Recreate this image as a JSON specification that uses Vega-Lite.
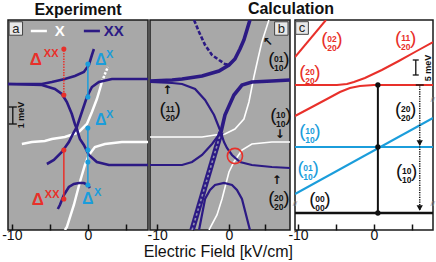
{
"$schema": "https://vega.github.io/schema/vega-lite/v6.json",
"padding": {"left": 0, "top": 0, "right": 0, "bottom": 0},
"background": "white",
"title": {"text": "Electric Field [kV/cm]", "orient": "bottom", "fontWeight": "normal", "fontSize": 16, "offset": 1, "anchor": "middle"},
"datasets": {
"aL": [
{"s":"A1","k":"XX","x":-10.5,"y":146},{"s":"A1","k":"XX","x":-8.68,"y":146},{"s":"A1","k":"XX","x":-6.05,"y":146},{"s":"A1","k":"XX","x":-4.74,"y":148},{"s":"A1","k":"XX","x":-3.03,"y":151},{"s":"A1","k":"XX","x":-1.71,"y":154},{"s":"A1","k":"XX","x":-0.53,"y":158},{"s":"A1","k":"XX","x":0.13,"y":165},{"s":"A1","k":"XX","x":0.53,"y":175},{"s":"A1","k":"XX","x":0.79,"y":181},
{"s":"A2","k":"XX","x":-10.5,"y":146},{"s":"A2","k":"XX","x":-6.05,"y":145},{"s":"A2","k":"XX","x":-4.34,"y":141},{"s":"A2","k":"XX","x":-3.42,"y":136},{"s":"A2","k":"XX","x":-2.76,"y":128},{"s":"A2","k":"XX","x":-2.11,"y":116},{"s":"A2","k":"XX","x":-1.71,"y":106},{"s":"A2","k":"XX","x":-1.45,"y":101},{"s":"A2","k":"XX","x":-1.05,"y":91},{"s":"A2","k":"XX","x":-0.53,"y":85},{"s":"A2","k":"XX","x":0.13,"y":75},{"s":"A2","k":"XX","x":1.18,"y":68},{"s":"A2","k":"XX","x":2.76,"y":65},{"s":"A2","k":"XX","x":4.47,"y":65},{"s":"A2","k":"XX","x":7.9,"y":65},
{"s":"B","k":"XX","x":-5.39,"y":66},{"s":"B","k":"XX","x":-4.47,"y":70},{"s":"B","k":"XX","x":-3.42,"y":78},{"s":"B","k":"XX","x":-2.5,"y":88},{"s":"B","k":"XX","x":-1.84,"y":98},{"s":"B","k":"XX","x":-1.45,"y":103},{"s":"B","k":"XX","x":-0.79,"y":118},{"s":"B","k":"XX","x":-0.13,"y":133},{"s":"B","k":"XX","x":0.53,"y":143},{"s":"B","k":"XX","x":1.45,"y":148},{"s":"B","k":"XX","x":3.16,"y":151},{"s":"B","k":"XX","x":4.47,"y":151},{"s":"B","k":"XX","x":7.9,"y":151},
{"s":"C","k":"XX","x":-3.95,"y":21},{"s":"C","k":"XX","x":-3.68,"y":25},{"s":"C","k":"XX","x":-3.16,"y":35},{"s":"C","k":"XX","x":-2.5,"y":43},{"s":"C","k":"XX","x":-1.84,"y":46},{"s":"C","k":"XX","x":-1.18,"y":47},{"s":"C","k":"XX","x":-0.53,"y":47},{"s":"C","k":"XX","x":0,"y":45},{"s":"C","k":"XX","x":0.26,"y":42},
{"s":"legXX","k":"XX","x":-0.53,"y":199},{"s":"legXX","k":"XX","x":1.58,"y":199},
{"s":"W1","k":"X","x":-8.68,"y":86},{"s":"W1","k":"X","x":-7.37,"y":88},{"s":"W1","k":"X","x":-5.66,"y":89},{"s":"W1","k":"X","x":-4.74,"y":91},{"s":"W1","k":"X","x":-3.03,"y":93},{"s":"W1","k":"X","x":-1.84,"y":96},{"s":"W1","k":"X","x":-1.18,"y":98},{"s":"W1","k":"X","x":-0.13,"y":106},{"s":"W1","k":"X","x":0.53,"y":118},{"s":"W1","k":"X","x":1.18,"y":131},{"s":"W1","k":"X","x":1.58,"y":141},{"s":"W1","k":"X","x":1.84,"y":148},
{"s":"W1d","k":"Xd","x":1.84,"y":148},{"s":"W1d","k":"Xd","x":2.24,"y":156},{"s":"W1d","k":"Xd","x":2.63,"y":163},
{"s":"W2","k":"X","x":-3.03,"y":0},{"s":"W2","k":"X","x":-2.76,"y":3},{"s":"W2","k":"X","x":-1.84,"y":25},{"s":"W2","k":"X","x":-1.05,"y":48},{"s":"W2","k":"X","x":-0.39,"y":65},{"s":"W2","k":"X","x":0.13,"y":75},{"s":"W2","k":"X","x":0.92,"y":83},{"s":"W2","k":"X","x":2.24,"y":86},{"s":"W2","k":"X","x":4.47,"y":88},{"s":"W2","k":"X","x":7.9,"y":88},
{"s":"legX","k":"X","x":-7.5,"y":199},{"s":"legX","k":"X","x":-5.39,"y":199}
],
"aV": [
{"k":"rd","x":-3.16,"y":135,"y2":181},{"k":"r","x":-3.16,"y":31,"y2":80},{"k":"b","x":0,"y":133,"y2":166},{"k":"b","x":0,"y":45,"y2":102},{"k":"k","x":-9.87,"y":106,"y2":123}
],
"aH": [
{"k":"k","x":-10.39,"x2":-9.34,"y":123},{"k":"k","x":-10.39,"x2":-9.34,"y":106}
],
"aP": [
{"k":"r","x":-3.16,"y":181},{"k":"r","x":-3.16,"y":135},{"k":"r","x":-3.16,"y":80},{"k":"r","x":-3.16,"y":31},
{"k":"b","x":0,"y":166},{"k":"b","x":0,"y":133},{"k":"b","x":0,"y":102},{"k":"b","x":0,"y":80},{"k":"b","x":0,"y":68},{"k":"b","x":0,"y":45},
{"k":"box","x":-9.47,"y":201.5}
],
"aT": [
{"k":"dR","t":"Δ","x":-7.63,"y":165},{"k":"supR","t":"XX","x":-5.79,"y":173},
{"k":"dR","t":"Δ","x":-7.37,"y":25},{"k":"supR","t":"XX","x":-5.66,"y":32},
{"k":"dB","t":"Δ","x":0.92,"y":165},{"k":"supB","t":"X","x":2.37,"y":172},
{"k":"dB","t":"Δ","x":0.92,"y":105},{"k":"supB","t":"X","x":2.37,"y":112},
{"k":"dB","t":"Δ","x":-0.79,"y":26},{"k":"supB","t":"X","x":0.79,"y":34},
{"k":"legW","t":"X","x":-4.34,"y":194},{"k":"legB","t":"XX","x":2.1,"y":194},
{"k":"meV","t":"1 meV","x":-8.75,"y":115},
{"k":"lbl","t":"a","x":-9.47,"y":201.5}
],
"bL": [
{"s":"B1","k":"XXt","x":-11,"y":149},{"s":"B1","k":"XXt","x":-7.92,"y":150},{"s":"B1","k":"XXt","x":-6.53,"y":151},{"s":"B1","k":"XXt","x":-3.75,"y":154},{"s":"B1","k":"XXt","x":-1.39,"y":159},{"s":"B1","k":"XXt","x":0,"y":165},{"s":"B1","k":"XXt","x":0.83,"y":171},{"s":"B1","k":"XXt","x":1.53,"y":181},{"s":"B1","k":"XXt","x":2.08,"y":190},{"s":"B1","k":"XXt","x":2.5,"y":200},{"s":"B1","k":"XXt","x":2.92,"y":210},
{"s":"B2","k":"XX","x":-11,"y":148},{"s":"B2","k":"XX","x":-7.92,"y":147},{"s":"B2","k":"XX","x":-6.53,"y":146},{"s":"B2","k":"XX","x":-4.72,"y":141},{"s":"B2","k":"XX","x":-3.33,"y":130},{"s":"B2","k":"XX","x":-2.08,"y":115},{"s":"B2","k":"XX","x":-1.25,"y":100},{"s":"B2","k":"XX","x":-0.69,"y":88},{"s":"B2","k":"XX","x":-0.28,"y":82},{"s":"B2","k":"XX","x":0.42,"y":75},{"s":"B2","k":"XX","x":1.53,"y":68},{"s":"B2","k":"XX","x":3.19,"y":65},{"s":"B2","k":"XX","x":5.97,"y":63},{"s":"B2","k":"XX","x":8.5,"y":62},
{"s":"B3a","k":"XX","x":-11,"y":65},{"s":"B3a","k":"XX","x":-6.53,"y":65},{"s":"B3a","k":"XX","x":-5.14,"y":68},{"s":"B3a","k":"XX","x":-3.75,"y":75},{"s":"B3a","k":"XX","x":-2.36,"y":86},{"s":"B3a","k":"XX","x":-1.11,"y":98},
{"s":"B3b","k":"XXt","x":-1.11,"y":98},{"s":"B3b","k":"XXt","x":-0.56,"y":115},{"s":"B3b","k":"XXt","x":0.69,"y":135},{"s":"B3b","k":"XXt","x":1.81,"y":145},{"s":"B3b","k":"XXt","x":3.19,"y":148},{"s":"B3b","k":"XXt","x":5.97,"y":149},{"s":"B3b","k":"XXt","x":8.5,"y":150},
{"s":"U","k":"XXd","x":-4.86,"y":210},{"s":"U","k":"XXd","x":-4.17,"y":198},{"s":"U","k":"XXd","x":-3.33,"y":185},{"s":"U","k":"XXd","x":-2.36,"y":175},{"s":"U","k":"XXd","x":-1.39,"y":170},{"s":"U","k":"XXd","x":-0.56,"y":166},{"s":"U","k":"XXd","x":0.14,"y":165},
{"s":"H","k":"hatch","x":-5.14,"y":0},{"s":"H","k":"hatch","x":-1.11,"y":98},
{"s":"Cb","k":"XX","x":-4.17,"y":0},{"s":"Cb","k":"XX","x":-3.33,"y":31},{"s":"Cb","k":"XX","x":-2.64,"y":40},{"s":"Cb","k":"XX","x":-1.94,"y":45},{"s":"Cb","k":"XX","x":-0.69,"y":47},{"s":"Cb","k":"XX","x":0.42,"y":45},{"s":"Cb","k":"XX","x":1.11,"y":40},{"s":"Cb","k":"XX","x":1.81,"y":31},{"s":"Cb","k":"XX","x":2.92,"y":0},
{"s":"Wb1","k":"X","x":-11,"y":93},{"s":"Wb1","k":"X","x":-6.53,"y":93},{"s":"Wb1","k":"X","x":-3.75,"y":93},{"s":"Wb1","k":"X","x":-1.94,"y":95},{"s":"Wb1","k":"X","x":-0.56,"y":96},{"s":"Wb1","k":"X","x":0.83,"y":101},{"s":"Wb1","k":"X","x":2.08,"y":111},{"s":"Wb1","k":"X","x":2.78,"y":128},{"s":"Wb1","k":"X","x":3.47,"y":153},{"s":"Wb1","k":"X","x":4.03,"y":171},{"s":"Wb1","k":"X","x":4.58,"y":188},{"s":"Wb1","k":"X","x":5.56,"y":210},
{"s":"Wb2","k":"X","x":-2.78,"y":0},{"s":"Wb2","k":"X","x":-1.67,"y":15},{"s":"Wb2","k":"X","x":-0.97,"y":31},{"s":"Wb2","k":"X","x":0,"y":58},{"s":"Wb2","k":"X","x":0.69,"y":68},{"s":"Wb2","k":"X","x":1.81,"y":80},{"s":"Wb2","k":"X","x":3.19,"y":86},{"s":"Wb2","k":"X","x":5.97,"y":88},{"s":"Wb2","k":"X","x":8.5,"y":88}
],
"bP": [
{"k":"ring","x":0.83,"y":74},{"k":"box","x":7.29,"y":201.5}
],
"bT": [
{"k":"m","g":"state","t":"01/10","x":6.94,"y":171},
{"k":"m","g":"state","t":"11/20","x":-8.19,"y":121},
{"k":"m","g":"state","t":"10/10","x":7.22,"y":115},
{"k":"m","g":"state","t":"20/20","x":6.94,"y":32},
{"k":"arr","t":"↖","x":5.42,"y":188},
{"k":"arr","t":"↑","x":-8.61,"y":140},
{"k":"arr","t":"↓","x":7.08,"y":96},
{"k":"arr","t":"↑","x":6.67,"y":50},
{"k":"lbl","t":"b","x":7.29,"y":201.5}
],
"cL": [
{"s":"Rs","k":"R","x":-10.4,"y":173},{"s":"Rs","k":"R","x":-6.32,"y":210},
{"s":"Ra","k":"R","x":-10.4,"y":145},{"s":"Ra","k":"R","x":-4.87,"y":145},{"s":"Ra","k":"R","x":-3.55,"y":146},{"s":"Ra","k":"R","x":-2.63,"y":148},{"s":"Ra","k":"R","x":-1.18,"y":152},{"s":"Ra","k":"R","x":1.05,"y":160},{"s":"Ra","k":"R","x":3.29,"y":169},{"s":"Ra","k":"R","x":5.66,"y":179},{"s":"Ra","k":"R","x":7.8,"y":188},
{"s":"Rb","k":"R","x":-10.4,"y":114},{"s":"Rb","k":"R","x":-8.16,"y":123},{"s":"Rb","k":"R","x":-6.18,"y":131},{"s":"Rb","k":"R","x":-4.47,"y":138},{"s":"Rb","k":"R","x":-3.16,"y":142},{"s":"Rb","k":"R","x":-1.84,"y":144},{"s":"Rb","k":"R","x":0,"y":145},{"s":"Rb","k":"R","x":7.8,"y":145},
{"s":"Bf","k":"Bl","x":-10.4,"y":83},{"s":"Bf","k":"Bl","x":7.8,"y":83},
{"s":"Bs","k":"Bl","x":-10.4,"y":36},{"s":"Bs","k":"Bl","x":7.8,"y":112},
{"s":"G","k":"G","x":-10.4,"y":17},{"s":"G","k":"G","x":7.8,"y":17}
],
"cV": [
{"k":"k","x":0.53,"y":17,"y2":145},{"k":"kd","x":6.05,"y":20,"y2":145},{"k":"k1","x":5.53,"y":155,"y2":170}
],
"cH": [
{"k":"k1","x":5.13,"x2":5.92,"y":170},{"k":"k1","x":5.13,"x2":5.92,"y":155},{"k":"k1","x":5.53,"x2":6.58,"y":145}
],
"cP": [
{"k":"dot","x":0.53,"y":145},{"k":"dot","x":0.53,"y":83},{"k":"dot","x":0.53,"y":17},
{"k":"tri","x":6.05,"y":87},{"k":"tri","x":6.05,"y":22},
{"k":"box","x":-9.47,"y":202}
],
"cT": [
{"k":"m","g":"biexciton","t":"02/20","x":-5.53,"y":191},
{"k":"m","g":"biexciton","t":"11/20","x":4.21,"y":192},
{"k":"m","g":"biexciton","t":"20/20","x":-8.42,"y":158},
{"k":"m","g":"state","t":"20/20","x":4.21,"y":121},
{"k":"m","g":"exciton","t":"10/10","x":-8.42,"y":99},
{"k":"m","g":"exciton","t":"01/10","x":-8.68,"y":62},
{"k":"m","g":"state","t":"10/10","x":4.34,"y":59},
{"k":"m","g":"state","t":"00/00","x":-7.11,"y":31},
{"k":"meV","t":"5 meV","x":7.1,"y":162},
{"k":"lbl","t":"c","x":-9.47,"y":202},
{"k":"brk","t":"//","x":-10.39,"y":26},{"k":"brk","t":"//","x":7.76,"y":26},{"k":"brk","t":"//","x":7.76,"y":130}
]
},
"spacing": 2,
"bounds": "flush",
"hconcat": [
{
"title": {"text": "Experiment", "anchor": "middle"},
"width": 140, "height": 210,
"view": {"fill": "#a8a8a8", "stroke": "#1a1a1a", "strokeWidth": 1.5},
"encoding": {
"x": {"field": "x", "type": "quantitative", "scale": {"domain": [-10.5, 7.9], "nice": false, "zero": false},
 "axis": {"values": [-10, -5, 0, 5], "labelExpr": "datum.value == -10 ? '-10' : datum.value == 0 ? '0' : ''", "tickSize": -6, "tickWidth": 1.5, "tickColor": "#111", "domain": false, "grid": false, "title": null, "labelFontSize": 14, "labelFont": "Liberation Sans", "labelColor": "#111", "labelPadding": 4, "labelFlush": false, "labelOverlap": false}},
"y": {"field": "y", "type": "quantitative", "scale": {"domain": [0, 210], "nice": false, "zero": false}, "axis": null}
},
"layer": [
{"data": {"name": "aL"}, "transform": [{"filter": "datum.k == 'X'"}], "mark": {"type": "line", "stroke": "white", "strokeWidth": 2.5, "clip": true}, "encoding": {"detail": {"field": "s"}}},
{"data": {"name": "aL"}, "transform": [{"filter": "datum.k == 'Xd'"}], "mark": {"type": "line", "stroke": "white", "strokeWidth": 2.5, "strokeDash": [2.5, 1.5], "clip": true}, "encoding": {"detail": {"field": "s"}}},
{"data": {"name": "aL"}, "transform": [{"filter": "datum.k == 'XX'"}], "mark": {"type": "line", "stroke": "#2c1a84", "strokeWidth": 2.6, "clip": true}, "encoding": {"detail": {"field": "s"}}},
{"data": {"name": "aV"}, "transform": [{"filter": "datum.k == 'rd'"}], "mark": {"type": "rule", "stroke": "#e8302a", "strokeWidth": 1.5, "strokeDash": [1.5, 1.2]}, "encoding": {"y2": {"field": "y2"}}},
{"data": {"name": "aV"}, "transform": [{"filter": "datum.k == 'r'"}], "mark": {"type": "rule", "stroke": "#e8302a", "strokeWidth": 1.5}, "encoding": {"y2": {"field": "y2"}}},
{"data": {"name": "aV"}, "transform": [{"filter": "datum.k == 'b'"}], "mark": {"type": "rule", "stroke": "#1b9ddb", "strokeWidth": 1.5}, "encoding": {"y2": {"field": "y2"}}},
{"data": {"name": "aV"}, "transform": [{"filter": "datum.k == 'k'"}], "mark": {"type": "rule", "stroke": "#111", "strokeWidth": 1.3}, "encoding": {"y2": {"field": "y2"}}},
{"data": {"name": "aH"}, "transform": [{"filter": "datum.k == 'k'"}], "mark": {"type": "rule", "stroke": "#111", "strokeWidth": 1.3}, "encoding": {"x2": {"field": "x2"}}},
{"data": {"name": "aP"}, "transform": [{"filter": "datum.k == 'r'"}], "mark": {"type": "point", "shape": "circle", "filled": true, "size": 26, "color": "#e8302a", "opacity": 1}},
{"data": {"name": "aP"}, "transform": [{"filter": "datum.k == 'b'"}], "mark": {"type": "point", "shape": "circle", "filled": true, "size": 26, "color": "#1b9ddb", "opacity": 1}},
{"data": {"name": "aP"}, "transform": [{"filter": "datum.k == 'box'"}], "mark": {"type": "point", "shape": "square", "filled": true, "size": 180, "fill": "#e8e8e8", "stroke": "#444", "strokeWidth": 1, "opacity": 1}},
{"data": {"name": "aT"}, "transform": [{"filter": "datum.k == 'dR'"}], "mark": {"type": "text", "font": "Liberation Sans", "fontSize": 17, "fontWeight": "bold", "fill": "#e8302a", "align": "left", "baseline": "alphabetic"}, "encoding": {"text": {"field": "t"}}},
{"data": {"name": "aT"}, "transform": [{"filter": "datum.k == 'supR'"}], "mark": {"type": "text", "font": "Liberation Sans", "fontSize": 11, "fontWeight": "bold", "fill": "#e8302a", "align": "left", "baseline": "alphabetic"}, "encoding": {"text": {"field": "t"}}},
{"data": {"name": "aT"}, "transform": [{"filter": "datum.k == 'dB'"}], "mark": {"type": "text", "font": "Liberation Sans", "fontSize": 16, "fontWeight": "bold", "fill": "#1b9ddb", "align": "left", "baseline": "alphabetic"}, "encoding": {"text": {"field": "t"}}},
{"data": {"name": "aT"}, "transform": [{"filter": "datum.k == 'supB'"}], "mark": {"type": "text", "font": "Liberation Sans", "fontSize": 11, "fontWeight": "bold", "fill": "#1b9ddb", "align": "left", "baseline": "alphabetic"}, "encoding": {"text": {"field": "t"}}},
{"data": {"name": "aT"}, "transform": [{"filter": "datum.k == 'legW'"}], "mark": {"type": "text", "font": "Liberation Sans", "fontSize": 15, "fontWeight": "bold", "fill": "white", "align": "left", "baseline": "alphabetic"}, "encoding": {"text": {"field": "t"}}},
{"data": {"name": "aT"}, "transform": [{"filter": "datum.k == 'legB'"}], "mark": {"type": "text", "font": "Liberation Sans", "fontSize": 15, "fontWeight": "bold", "fill": "#2c1a84", "align": "left", "baseline": "alphabetic"}, "encoding": {"text": {"field": "t"}}},
{"data": {"name": "aT"}, "transform": [{"filter": "datum.k == 'meV'"}], "mark": {"type": "text", "font": "Liberation Sans", "fontSize": 9, "fontWeight": "bold", "fill": "#111", "align": "center", "baseline": "middle", "angle": 270}, "encoding": {"text": {"field": "t"}}},
{"data": {"name": "aT"}, "transform": [{"filter": "datum.k == 'lbl'"}], "mark": {"type": "text", "font": "Liberation Sans", "fontSize": 13, "fill": "#222", "align": "center", "baseline": "middle"}, "encoding": {"text": {"field": "t"}}}
]
},
{
"title": {"text": "Calculation", "anchor": "middle"},
"spacing": 5,
"bounds": "flush",
"hconcat": [
{
"width": 140, "height": 210,
"view": {"fill": "#a8a8a8", "stroke": "#1a1a1a", "strokeWidth": 1.5},
"encoding": {
"x": {"field": "x", "type": "quantitative", "scale": {"domain": [-11, 8.5], "nice": false, "zero": false},
 "axis": {"values": [-10, -5, 0, 5], "labelExpr": "datum.value == -10 ? '-10' : datum.value == 0 ? '0' : ''", "tickSize": -6, "tickWidth": 1.5, "tickColor": "#111", "domain": false, "grid": false, "title": null, "labelFontSize": 14, "labelFont": "Liberation Sans", "labelColor": "#111", "labelPadding": 4, "labelFlush": false, "labelOverlap": false}},
"y": {"field": "y", "type": "quantitative", "scale": {"domain": [0, 210], "nice": false, "zero": false}, "axis": null}
},
"layer": [
{"data": {"name": "bL"}, "transform": [{"filter": "datum.k == 'X'"}], "mark": {"type": "line", "stroke": "white", "strokeWidth": 1.6, "clip": true}, "encoding": {"detail": {"field": "s"}}},
{"data": {"name": "bL"}, "transform": [{"filter": "datum.k == 'hatch'"}], "mark": {"type": "line", "stroke": "#2c1a84", "strokeWidth": 5.5, "clip": true}, "encoding": {"detail": {"field": "s"}}},
{"data": {"name": "bL"}, "transform": [{"filter": "datum.k == 'hatch'"}], "mark": {"type": "line", "stroke": "#8f8fb0", "strokeWidth": 1.6, "strokeDash": [2.5, 2.5], "clip": true}, "encoding": {"detail": {"field": "s"}}},
{"data": {"name": "bL"}, "transform": [{"filter": "datum.k == 'XX'"}], "mark": {"type": "line", "stroke": "#2c1a84", "strokeWidth": 2.2, "clip": true}, "encoding": {"detail": {"field": "s"}}},
{"data": {"name": "bL"}, "transform": [{"filter": "datum.k == 'XXt'"}], "mark": {"type": "line", "stroke": "#2c1a84", "strokeWidth": 3.6, "clip": true}, "encoding": {"detail": {"field": "s"}}},
{"data": {"name": "bL"}, "transform": [{"filter": "datum.k == 'XXd'"}], "mark": {"type": "line", "stroke": "#2c1a84", "strokeWidth": 2.6, "strokeDash": [4, 2], "clip": true}, "encoding": {"detail": {"field": "s"}}},
{"data": {"name": "bP"}, "transform": [{"filter": "datum.k == 'ring'"}], "mark": {"type": "point", "shape": "circle", "filled": false, "size": 230, "stroke": "#e8302a", "strokeWidth": 1.6, "opacity": 1}},
{"data": {"name": "bP"}, "transform": [{"filter": "datum.k == 'box'"}], "mark": {"type": "point", "shape": "square", "filled": true, "size": 180, "fill": "#e8e8e8", "stroke": "#444", "strokeWidth": 1, "opacity": 1}},
{"data": {"name": "bT"}, "transform": [{"filter": "datum.k == 'm'"}], "mark": {"type": "text", "font": "Liberation Sans", "fontSize": 8.5, "fontWeight": "bold", "lineBreak": "/", "lineHeight": 8.5, "fill": "#111", "align": "center", "baseline": "middle"}, "encoding": {"text": {"field": "t"}}},
{"data": {"name": "bT"}, "transform": [{"filter": "datum.k == 'm'"}], "mark": {"type": "text", "font": "Liberation Sans", "fontSize": 19, "fill": "#111", "align": "center", "baseline": "middle", "dx": -7.5, "text": "("}},
{"data": {"name": "bT"}, "transform": [{"filter": "datum.k == 'm'"}], "mark": {"type": "text", "font": "Liberation Sans", "fontSize": 19, "fill": "#111", "align": "center", "baseline": "middle", "dx": 7.5, "text": ")"}},
{"data": {"name": "bT"}, "transform": [{"filter": "datum.k == 'arr'"}], "mark": {"type": "text", "font": "DejaVu Sans", "fontSize": 12, "fontWeight": "bold", "fill": "#111", "align": "center", "baseline": "middle"}, "encoding": {"text": {"field": "t"}}},
{"data": {"name": "bT"}, "transform": [{"filter": "datum.k == 'lbl'"}], "mark": {"type": "text", "font": "Liberation Sans", "fontSize": 13, "fill": "#222", "align": "center", "baseline": "middle"}, "encoding": {"text": {"field": "t"}}}
]
},
{
"width": 138, "height": 210,
"view": {"fill": "white", "stroke": "#1a1a1a", "strokeWidth": 1.5},
"encoding": {
"x": {"field": "x", "type": "quantitative", "scale": {"domain": [-10.4, 7.8], "nice": false, "zero": false},
 "axis": {"values": [-10, -5, 0, 5], "labelExpr": "datum.value == -10 ? '-10' : datum.value == 0 ? '0' : ''", "tickSize": -6, "tickWidth": 1.5, "tickColor": "#111", "domain": false, "grid": false, "title": null, "labelFontSize": 14, "labelFont": "Liberation Sans", "labelColor": "#111", "labelPadding": 4, "labelFlush": false, "labelOverlap": false}},
"y": {"field": "y", "type": "quantitative", "scale": {"domain": [0, 210], "nice": false, "zero": false}, "axis": null}
},
"layer": [
{"data": {"name": "cL"}, "transform": [{"filter": "datum.k == 'R'"}], "mark": {"type": "line", "stroke": "#e8302a", "strokeWidth": 2, "clip": true}, "encoding": {"detail": {"field": "s"}}},
{"data": {"name": "cL"}, "transform": [{"filter": "datum.k == 'Bl'"}], "mark": {"type": "line", "stroke": "#1b9ddb", "strokeWidth": 2, "clip": true}, "encoding": {"detail": {"field": "s"}}},
{"data": {"name": "cL"}, "transform": [{"filter": "datum.k == 'G'"}], "mark": {"type": "line", "stroke": "#111", "strokeWidth": 2.5, "clip": true}, "encoding": {"detail": {"field": "s"}}},
{"data": {"name": "cV"}, "transform": [{"filter": "datum.k == 'k'"}], "mark": {"type": "rule", "stroke": "#111", "strokeWidth": 2}, "encoding": {"y2": {"field": "y2"}}},
{"data": {"name": "cV"}, "transform": [{"filter": "datum.k == 'kd'"}], "mark": {"type": "rule", "stroke": "#111", "strokeWidth": 1.5, "strokeDash": [1.2, 1.2]}, "encoding": {"y2": {"field": "y2"}}},
{"data": {"name": "cV"}, "transform": [{"filter": "datum.k == 'k1'"}], "mark": {"type": "rule", "stroke": "#111", "strokeWidth": 1.3}, "encoding": {"y2": {"field": "y2"}}},
{"data": {"name": "cH"}, "transform": [{"filter": "datum.k == 'k1'"}], "mark": {"type": "rule", "stroke": "#111", "strokeWidth": 1.3}, "encoding": {"x2": {"field": "x2"}}},
{"data": {"name": "cP"}, "transform": [{"filter": "datum.k == 'dot'"}], "mark": {"type": "point", "shape": "circle", "filled": true, "size": 28, "color": "#111", "opacity": 1}},
{"data": {"name": "cP"}, "transform": [{"filter": "datum.k == 'tri'"}], "mark": {"type": "point", "shape": "triangle-down", "filled": true, "size": 40, "color": "#111", "opacity": 1}},
{"data": {"name": "cP"}, "transform": [{"filter": "datum.k == 'box'"}], "mark": {"type": "point", "shape": "square", "filled": true, "size": 160, "fill": "#e8e8e8", "stroke": "#444", "strokeWidth": 1, "opacity": 1}},
{"data": {"name": "cT"}, "transform": [{"filter": "datum.k == 'm'"}], "mark": {"type": "text", "font": "Liberation Sans", "fontSize": 8.5, "fontWeight": "bold", "lineBreak": "/", "lineHeight": 8.5, "align": "center", "baseline": "middle"}, "encoding": {"text": {"field": "t"}, "color": {"field": "g", "type": "nominal", "scale": {"domain": ["state", "biexciton", "exciton"], "range": ["#111111", "#e8302a", "#1b9ddb"]}, "legend": null}}},
{"data": {"name": "cT"}, "transform": [{"filter": "datum.k == 'm'"}], "mark": {"type": "text", "font": "Liberation Sans", "fontSize": 19, "align": "center", "baseline": "middle", "dx": -7.5, "text": "("}, "encoding": {"color": {"field": "g", "type": "nominal", "scale": {"domain": ["state", "biexciton", "exciton"], "range": ["#111111", "#e8302a", "#1b9ddb"]}, "legend": null}}},
{"data": {"name": "cT"}, "transform": [{"filter": "datum.k == 'm'"}], "mark": {"type": "text", "font": "Liberation Sans", "fontSize": 19, "align": "center", "baseline": "middle", "dx": 7.5, "text": ")"}, "encoding": {"color": {"field": "g", "type": "nominal", "scale": {"domain": ["state", "biexciton", "exciton"], "range": ["#111111", "#e8302a", "#1b9ddb"]}, "legend": null}}},
{"data": {"name": "cT"}, "transform": [{"filter": "datum.k == 'meV'"}], "mark": {"type": "text", "font": "Liberation Sans", "fontSize": 9, "fontWeight": "bold", "fill": "#111", "align": "center", "baseline": "middle", "angle": 270}, "encoding": {"text": {"field": "t"}}},
{"data": {"name": "cT"}, "transform": [{"filter": "datum.k == 'lbl'"}], "mark": {"type": "text", "font": "Liberation Sans", "fontSize": 13, "fill": "#222", "align": "center", "baseline": "middle"}, "encoding": {"text": {"field": "t"}}},
{"data": {"name": "cT"}, "transform": [{"filter": "datum.k == 'brk'"}], "mark": {"type": "text", "font": "Liberation Sans", "fontSize": 8, "fill": "#999", "align": "center", "baseline": "middle"}, "encoding": {"text": {"field": "t"}}}
]
}
]
}
],
"config": {
"font": "Liberation Sans",
"view": {"stroke": "#1a1a1a", "strokeWidth": 1.5},
"title": {"font": "Liberation Sans", "fontSize": 16, "fontWeight": "bold", "color": "#111", "offset": 2, "anchor": "middle"}
}
}
